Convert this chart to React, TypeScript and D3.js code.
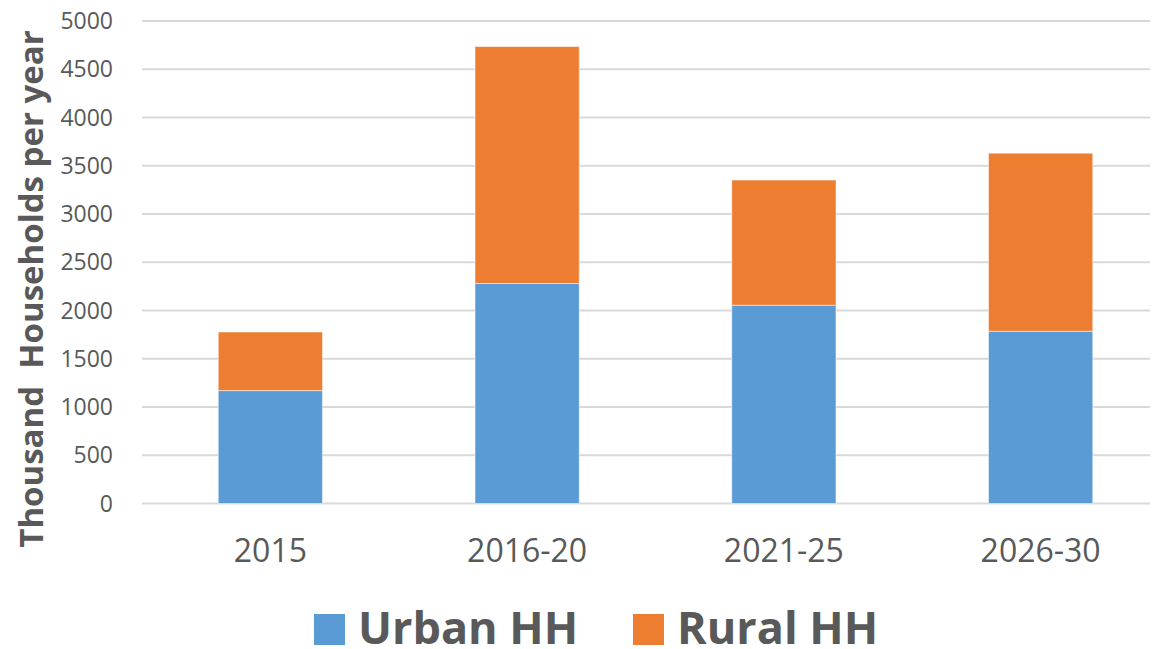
import React from "react";
import * as d3 from "d3";

const categories = ["2015", "2016-20", "2021-25", "2026-30"];
const urban = [1170, 2280, 2055, 1785];
const rural = [607, 2455, 1297, 1845];
const seriesNames = ["Urban HH", "Rural HH"];
const yTicks = [0, 500, 1000, 1500, 2000, 2500, 3000, 3500, 4000, 4500, 5000];

const colors = ["#5B9BD5", "#ED7D31"];
const font = "'Open Sans', 'Noto Sans', sans-serif";
const textColor = "#595959";

const App = () => {
  const width = 1153;
  const height = 649;

  const x = d3
    .scaleBand()
    .domain(categories)
    .range([142, 1169])
    .paddingInner(0.594)
    .paddingOuter(0.297);

  const y = d3.scaleLinear().domain([0, 5000]).range([503.5, 21]);

  const rows = categories.map((c, i) => ({ cat: c, urban: urban[i], rural: rural[i] }));
  const stack = d3.stack().keys(["urban", "rural"]);
  const layers = stack(rows);

  return (
    <svg
      width={width}
      height={height}
      style={{ position: "absolute", left: 0, top: 0, background: "#fff" }}
    >
      {yTicks.map(t => (
        <g key={t}>
          <line
            x1={142}
            x2={1150}
            y1={y(t)}
            y2={y(t)}
            stroke="#D9D9D9"
            strokeWidth={2}
          />
          <text
            x={113}
            y={y(t)}
            dy="0.35em"
            textAnchor="end"
            fontFamily={font}
            fontSize={23}
            fill={textColor}
          >
            {t}
          </text>
        </g>
      ))}

      {layers.map((layer, li) => (
        <g key={li} fill={colors[li]}>
          {layer.map((d, i) => (
            <rect
              key={i}
              x={x(categories[i])}
              width={x.bandwidth()}
              y={y(d[1])}
              height={y(d[0]) - y(d[1])}
              stroke="#fff"
              strokeOpacity={0.5}
              strokeWidth={1}
            />
          ))}
        </g>
      ))}

      {categories.map(c => (
        <text
          key={c}
          x={x(c) + x.bandwidth() / 2}
          y={562}
          textAnchor="middle"
          fontFamily={font}
          fontSize={32}
          fill={textColor}
        >
          {c}
        </text>
      ))}

      <text
        transform="translate(43, 289) rotate(-90)"
        textAnchor="middle"
        fontFamily={font}
        fontSize={33}
        fontWeight="bold"
        fill={textColor}
        style={{ whiteSpace: "pre" }}
      >
        {"Thousand  Households per year"}
      </text>

      {seriesNames.map((s, i) => {
        const lx = [314, 633][i];
        return (
          <g key={s}>
            <rect x={lx} y={614} width={31} height={31} fill={colors[i]} />
            <text
              x={lx + 44}
              y={644}
              fontFamily={font}
              fontSize={45}
              fontWeight="bold"
              fill={textColor}
            >
              {s}
            </text>
          </g>
        );
      })}
    </svg>
  );
};

export default App;
